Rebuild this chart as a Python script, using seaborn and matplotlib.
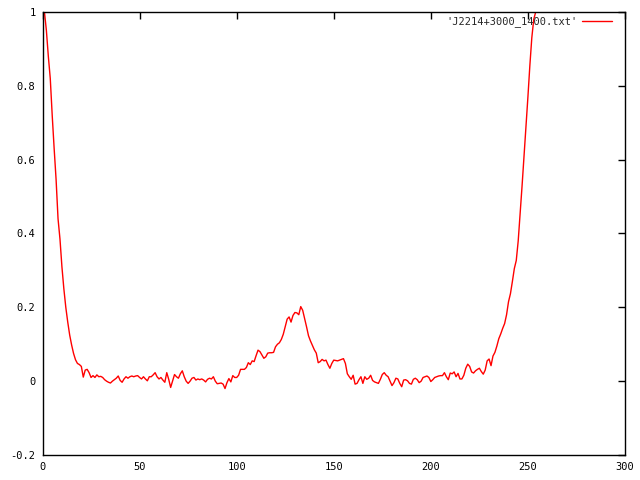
import numpy as np
import pandas as pd
import matplotlib
matplotlib.use("Agg")
import matplotlib.pyplot as plt
import seaborn as sns
from matplotlib.ticker import FuncFormatter

label = "'J2214+3000_1400.txt'"

intensity = [
    1.03, 1.00, 0.95, 0.88, 0.82, 0.72, 0.63, 0.546, 0.44, 0.385,
    0.31, 0.25, 0.20, 0.16, 0.125, 0.098, 0.075, 0.058, 0.048, 0.045,
    0.04, 0.011, 0.03, 0.032, 0.023, 0.01, 0.015, 0.01, 0.017, 0.012,
    0.013, 0.01, 0.004, 0.0, -0.003, -0.005, 0.0, 0.004, 0.008, 0.014,
    0.002, -0.003, 0.006, 0.012, 0.008, 0.012, 0.014, 0.012, 0.014, 0.015,
    0.01, 0.006, 0.012, 0.006, 0.001, 0.012, 0.012, 0.017, 0.023, 0.012,
    0.006, 0.01, 0.003, -0.003, 0.023, 0.005, -0.017, 0.0, 0.018, 0.012,
    0.008, 0.02, 0.028, 0.012, 0.0, -0.006, 0.0, 0.008, 0.01, 0.003,
    0.006, 0.004, 0.006, 0.003, -0.002, 0.005, 0.008, 0.006, 0.012, 0.0,
    -0.007, -0.006, -0.005, -0.008, -0.02, -0.004, 0.007, -0.002, 0.015, 0.01,
    0.01, 0.016, 0.032, 0.032, 0.032, 0.037, 0.05, 0.045, 0.055, 0.053,
    0.069, 0.084, 0.08, 0.071, 0.062, 0.066, 0.076, 0.077, 0.077, 0.078,
    0.093, 0.1, 0.104, 0.113, 0.127, 0.147, 0.168, 0.174, 0.16, 0.178,
    0.186, 0.185, 0.18, 0.202, 0.192, 0.17, 0.147, 0.123, 0.109, 0.097,
    0.085, 0.076, 0.05, 0.053, 0.059, 0.055, 0.057, 0.045, 0.035, 0.048,
    0.057, 0.056, 0.055, 0.057, 0.059, 0.061, 0.048, 0.02, 0.012, 0.005,
    0.016, -0.008, -0.006, 0.004, 0.012, -0.006, 0.012, 0.005, 0.008, 0.016,
    0.002, -0.002, -0.004, -0.006, 0.005, 0.018, 0.023, 0.016, 0.012, 0.0,
    -0.012, -0.004, 0.008, 0.006, -0.006, -0.015, 0.003, 0.004, 0.001, -0.006,
    -0.008, 0.005, 0.008, 0.004, -0.004, 0.0, 0.01, 0.012, 0.014, 0.01,
    -0.001, 0.004, 0.01, 0.012, 0.014, 0.015, 0.015, 0.023, 0.012, 0.004,
    0.022, 0.02, 0.025, 0.012, 0.021, 0.006, 0.006, 0.016, 0.035, 0.046,
    0.04, 0.025, 0.022, 0.028, 0.032, 0.035, 0.026, 0.019, 0.03, 0.055,
    0.06, 0.042, 0.068, 0.078, 0.095, 0.115, 0.128, 0.143, 0.156, 0.18,
    0.215, 0.237, 0.27, 0.305, 0.327, 0.38, 0.455, 0.53, 0.61, 0.69,
    0.77, 0.855, 0.93, 0.98, 1.0, 1.05, 1.1,
]
bins = list(range(len(intensity)))

x_ticks = [0, 50, 100, 150, 200, 250, 300]
y_ticks = [-0.2, 0, 0.2, 0.4, 0.6, 0.8, 1]

df = pd.DataFrame({"bin": bins, "intensity": intensity})

sns.set_style("white")
plt.rcParams["font.family"] = ["DejaVu Sans Mono"]

fig = plt.figure(figsize=(6.4, 4.8), dpi=100)
ax = fig.add_axes([42.5 / 640, 25 / 480, 582.5 / 640, 443 / 480])

sns.lineplot(data=df, x="bin", y="intensity", color="#ff0000", linewidth=1.0,
             ax=ax, label=label)

ax.set_xlim(0, 300)
ax.set_ylim(-0.2, 1)
ax.set_xticks(x_ticks)
ax.set_yticks(y_ticks)
ax.yaxis.set_major_formatter(FuncFormatter(lambda v, p: f"{v:g}"))
ax.xaxis.set_major_formatter(FuncFormatter(lambda v, p: f"{v:g}"))
ax.set_xlabel("")
ax.set_ylabel("")
ax.tick_params(direction="in", length=5, width=1, top=True, right=True,
               labelsize=7.5, colors="black", pad=5)
for s in ax.spines.values():
    s.set_color("black")
    s.set_linewidth(1)
ax.grid(False)

leg = ax.legend(loc="upper right", bbox_to_anchor=(0.985, 1.0),
                frameon=False, markerfirst=False, fontsize=7.5,
                handlelength=2.9, borderaxespad=0.0, handletextpad=0.45)

fig.savefig("out.png", dpi=100)
